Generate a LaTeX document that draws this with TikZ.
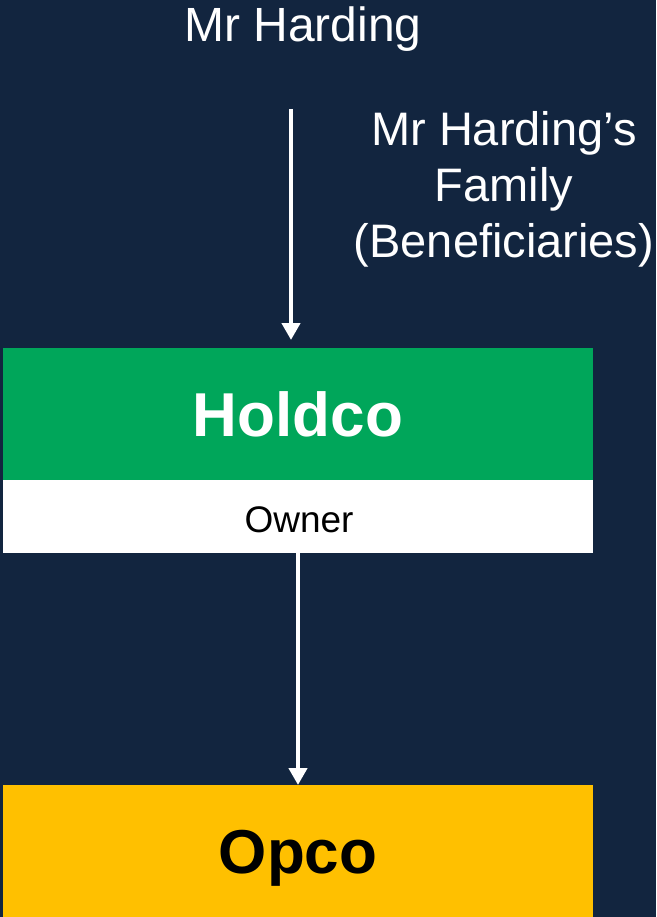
\documentclass[tikz,border=0pt]{standalone}
\usepackage{fontspec}
\setmainfont{Liberation Sans}
\usetikzlibrary{arrows.meta}
\definecolor{navy}{HTML}{12253F}
\definecolor{hgreen}{HTML}{00A65A}
\definecolor{ogold}{HTML}{FFC000}
\tikzset{
  box/.style={draw=none, rectangle, minimum width=590pt, inner sep=0pt, anchor=north west},
  lbl/.style={text=white, inner sep=0pt, anchor=base},
  conn/.style={white, line width=4.5pt, -{Triangle[width=18pt,length=17pt]}},
}
\begin{document}
\begin{tikzpicture}[x=1pt,y=-1pt]
\fill[navy] (0,0) rectangle (656,917);
\useasboundingbox (0,0) rectangle (656,917);
% boxes
\node[box, fill=hgreen, minimum height=132pt] (holdco) at (3,348) {};
\node[box, fill=white, minimum height=73pt] (owner) at (3,480) {};
\begin{scope}
\clip (0,0) rectangle (656,917);
\node[box, fill=ogold, minimum height=140pt] (opco) at (3,785) {};
\end{scope}
% texts
\node[lbl] (mrh) at (303,42) {\fontsize{48}{48}\selectfont Mr Harding};
\node[lbl, align=center, anchor=north, font=\fontsize{47}{56}\selectfont] (family) at (504,111)
  {Mr Harding’s\\Family\\(Beneficiaries)};
\node[lbl] (holdcot) at (298,436) {\fontsize{62}{62}\selectfont\bfseries Holdco};
\node[lbl, text=black] (ownert) at (299,532) {\fontsize{37}{37}\selectfont Owner};
\node[lbl, text=black] (opcot) at (298,873) {\fontsize{62}{62}\selectfont\bfseries Opco};
% connectors
\coordinate (a1) at (291,109);
\coordinate (a2) at (298,553);
\draw[conn, shorten >=8pt] (a1) -- (a1 |- holdco.north);
\draw[conn, shorten >=0pt] (a2) -- (a2 |- opco.north);
\end{tikzpicture}
\end{document}
